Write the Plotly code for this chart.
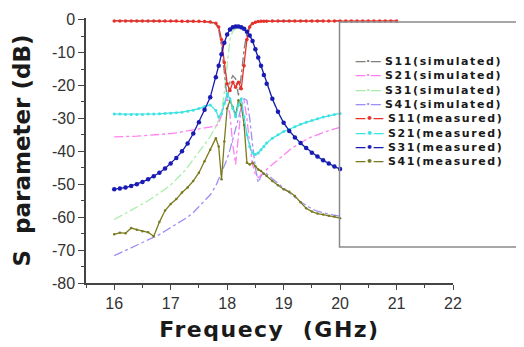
import plotly.graph_objects as go

# ---------------- data ----------------
freq = [16.0, 16.1, 16.2, 16.3, 16.4, 16.5, 16.6, 16.7, 16.8, 16.9, 17.0, 17.1, 17.2, 17.3, 17.4, 17.5, 17.6, 17.7, 17.8,
        17.85, 17.9, 17.95, 18.0, 18.05, 18.1, 18.15, 18.2, 18.25, 18.3, 18.35, 18.4, 18.45, 18.5, 18.55, 18.6, 18.65, 18.7,
        18.8, 18.9, 19.0, 19.1, 19.2, 19.3, 19.4, 19.5, 19.6, 19.7, 19.8, 19.9, 20.0]
freq_ext = [20.1, 20.2, 20.3, 20.4, 20.5, 20.6, 20.7, 20.8, 20.9, 21.0]

s11_sim = [-0.3, -0.3, -0.3, -0.3, -0.3, -0.3, -0.3, -0.3, -0.3, -0.3, -0.3, -0.4, -0.4, -0.4, -0.5, -0.5, -0.6, -0.8, -1.4,
           -3.0, -8.0, -16.0, -24.0, -19.0, -17.0, -18.0, -23.0, -17.0, -9.0, -4.0, -1.8, -1.0, -0.7, -0.5, -0.4, -0.4, -0.3,
           -0.3, -0.3, -0.3, -0.3, -0.3, -0.3, -0.3, -0.3, -0.3, -0.3, -0.3, -0.3, -0.3]
s21_sim = [-35.6, -35.6, -35.5, -35.5, -35.4, -35.3, -35.2, -35.0, -34.8, -34.7, -34.6, -34.4, -34.1, -33.8, -33.5, -33.2, -32.9, -32.6, -32.3,
           -31.5, -29.0, -25.5, -24.0, -29.0, -38.0, -44.0, -36.0, -26.5, -24.5, -30.0, -38.0, -44.0, -47.0, -48.0, -47.2, -46.3, -45.5,
           -44.0, -42.5, -41.0, -39.7, -38.5, -37.4, -36.4, -35.6, -34.9, -34.3, -33.7, -33.2, -32.7]
s31_sim = [-60.7, -59.8, -58.9, -58.0, -57.0, -56.0, -55.0, -53.9, -52.7, -51.5, -50.2, -48.6, -46.8, -44.8, -42.6, -40.3, -37.9, -35.5, -32.5,
           -30.5, -28.0, -22.0, -13.0, -6.0, -3.5, -2.8, -2.6, -2.8, -3.3, -4.2, -5.0, -6.8, -9.3, -11.8, -14.3, -17.0, -19.8,
           -24.3, -28.3, -31.5, -34.0, -36.0, -37.7, -39.2, -40.6, -41.8, -42.9, -43.9, -44.8, -45.6]
s41_sim = [-71.7, -70.9, -70.1, -69.2, -68.4, -67.6, -66.9, -66.2, -65.3, -64.2, -63.1, -62.0, -61.0, -60.0, -58.6, -56.9, -55.0, -53.2, -50.5,
           -48.5, -46.5, -44.5, -42.3, -39.5, -36.5, -33.5, -30.0, -26.5, -24.0, -24.5, -30.0, -38.0, -45.0, -49.5, -47.5, -46.3, -46.8,
           -48.3, -49.8, -51.2, -52.6, -54.0, -55.3, -56.5, -57.5, -58.2, -58.7, -59.1, -59.4, -59.7]

s11_meas = [-0.4, -0.4, -0.4, -0.4, -0.4, -0.4, -0.4, -0.4, -0.4, -0.4, -0.4, -0.4, -0.5, -0.5, -0.5, -0.5, -0.6, -0.7, -1.1,
            -2.2, -6.0, -13.0, -19.5, -21.5, -19.0, -20.5, -19.0, -21.0, -14.0, -6.0, -2.2, -1.2, -0.8, -0.6, -0.5, -0.5, -0.5,
            -0.4, -0.4, -0.4, -0.4, -0.4, -0.4, -0.4, -0.4, -0.4, -0.4, -0.4, -0.4, -0.4,
            -0.4, -0.4, -0.4, -0.4, -0.4, -0.4, -0.4, -0.4, -0.4, -0.4]
s21_meas = [-28.7, -28.7, -28.8, -28.8, -28.8, -28.8, -28.7, -28.7, -28.6, -28.5, -28.4, -28.3, -28.1, -27.8, -27.5, -27.0, -26.4, -25.9, -27.6,
            -29.6, -28.5, -25.5, -22.5, -24.0, -27.0, -29.5, -26.0, -24.0, -29.5, -35.0, -38.5, -40.5, -41.0, -40.5, -39.5, -38.5, -37.5,
            -36.0, -35.0, -34.0, -33.3, -32.5, -31.8, -31.2, -30.6, -30.1, -29.6, -29.2, -28.8, -28.5]
s31_meas = [-51.5, -51.3, -51.0, -50.5, -50.0, -49.3, -48.5, -47.6, -46.5, -45.2, -43.7, -42.0, -40.0, -37.6, -34.6, -31.2, -27.4, -23.6, -17.5,
            -14.0, -10.5, -7.0, -4.5, -3.0, -2.3, -2.1, -2.1, -2.3, -2.8, -3.7, -4.8, -6.5, -9.0, -11.5, -14.0, -16.8, -19.5,
            -24.0, -28.0, -31.3, -33.8, -35.8, -37.5, -39.0, -40.4, -41.6, -42.7, -43.7, -44.6, -45.4]
s41_meas = [-65.2, -64.7, -64.9, -63.3, -63.8, -64.3, -64.6, -65.8, -61.5, -58.0, -56.0, -54.5, -52.5, -51.0, -49.0, -46.5, -43.0, -39.5, -36.0,
            -38.5, -48.5, -37.0, -27.0, -24.5, -26.5, -29.0, -24.5, -26.0, -32.0, -43.5, -44.0, -43.5, -44.5, -45.5, -46.0, -46.8, -47.5,
            -49.0, -50.3, -51.5, -52.3, -53.6, -55.5, -57.3, -58.3, -58.9, -59.2, -59.6, -59.8, -60.3]

series_names = ["S11(simulated)", "S21(simulated)", "S31(simulated)", "S41(simulated)",
                "S11(measured)", "S21(measured)", "S31(measured)", "S41(measured)"]
x_tick_vals = [16, 17, 18, 19, 20, 21, 22]
y_tick_vals = [0, -10, -20, -30, -40, -50, -60, -70, -80]
y_tick_text = ["0", "-10", "-20", "-30", "-40", "-50", "-60", "-70", "-80"]

# ---------------- styles ----------------
colors = ["#808080", "#ff80f0", "#a8eea8", "#9c8ff5",
          "#e8302a", "#3de3e3", "#1a1ab4", "#7a7a1e"]
marker_sizes = [0, 0, 0, 0, 3.5, 3, 4.5, 2.5]

fig = go.Figure()
sim_data = [s11_sim, s21_sim, s31_sim, s41_sim]
meas_data = [s11_meas, s21_meas, s31_meas, s41_meas]

draw_order = [2, 3, 1, 0]  # simulated, drawn beneath measured
for i in draw_order:
    fig.add_trace(go.Scatter(x=freq, y=sim_data[i], mode="lines", name=series_names[i],
                             line=dict(color=colors[i], width=1.3, dash="dashdot"), showlegend=False))
meas_order = [3, 1, 0, 2]
for j in meas_order:
    xs = freq + freq_ext if j == 0 else freq
    k = j + 4
    fig.add_trace(go.Scatter(x=xs, y=meas_data[j], mode="lines+markers", name=series_names[k],
                             line=dict(color=colors[k], width=1.3),
                             marker=dict(color=colors[k], size=marker_sizes[k]), showlegend=False))

# ---------------- layout ----------------
# the page body adds an 8px offset; target plot box in window pixels: x 86..453, y 11..283
OFF = 8
W, H = 524, 347
L, R, T, B = 86 - OFF, W + OFF - 453, 11 - OFF, H + OFF - 283
pw, ph = W - L - R, H - T - B


def px_x(p):
    return (p - OFF - L) / pw


def px_y(p):
    return (H - B - (p - OFF)) / ph


fig.update_layout(
    width=W, height=H,
    margin=dict(l=L, r=R, t=T, b=B),
    paper_bgcolor="white", plot_bgcolor="white",
    font=dict(family="Liberation Sans, Arial", color="#222222"),
    xaxis=dict(range=[15.5, 22], tickvals=x_tick_vals, showgrid=False, zeroline=False,
               showline=True, linecolor="#444444", linewidth=1.5,
               ticks="outside", ticklen=5, tickwidth=1.3, tickcolor="#444444",
               minor=dict(dtick=0.5, ticks="outside", ticklen=3, tickcolor="#444444"),
               tickfont=dict(size=16, color="#333333"),
               title=dict(text="<span style='letter-spacing:1.5px'>Frequecy\u00a0 (GHz)</span>", standoff=11,
                          font=dict(family="DejaVu Sans", size=22, weight="bold", color="#1a1a1a"))),
    yaxis=dict(range=[-80, 0.5], tickvals=y_tick_vals, ticktext=y_tick_text, showgrid=False, zeroline=False,
               showline=True, linecolor="#444444", linewidth=1.5, ticklabeloverflow="allow",
               ticks="outside", ticklen=6, tickwidth=1.3, tickcolor="#444444",
               minor=dict(dtick=5, ticks="outside", ticklen=3, tickcolor="#444444"),
               tickfont=dict(size=16, color="#333333"),
               title=dict(text="S\u00a0 parameter (dB)", standoff=15,
                          font=dict(family="DejaVu Sans", size=23, weight="bold", color="#1a1a1a"))),
)

# legend box
fig.add_shape(type="rect", xref="paper", yref="paper",
              x0=px_x(339.5), x1=px_x(560), y0=px_y(246), y1=px_y(15),
              line=dict(color="#8a8a8a", width=1.5), fillcolor="rgba(0,0,0,0)")

# legend entries (one multi-line text block)
rows = []
for i, name in enumerate(series_names):
    sym = "\u2014\u00b7\u2014" if i < 4 else "\u2014\u2022\u2014"
    rows.append(f"<span style='color:{colors[i]}'>{sym}</span> "
                f"<span style='letter-spacing:1.6px'>{name}</span>")
fig.add_annotation(xref="paper", yref="paper", x=px_x(353), y=px_y(107),
                   xanchor="left", yanchor="middle", align="left", showarrow=False,
                   text="<br>".join(rows),
                   font=dict(family="DejaVu Sans", size=11, weight="bold", color="#1a1a1a"))

fig.write_html("out.html")
